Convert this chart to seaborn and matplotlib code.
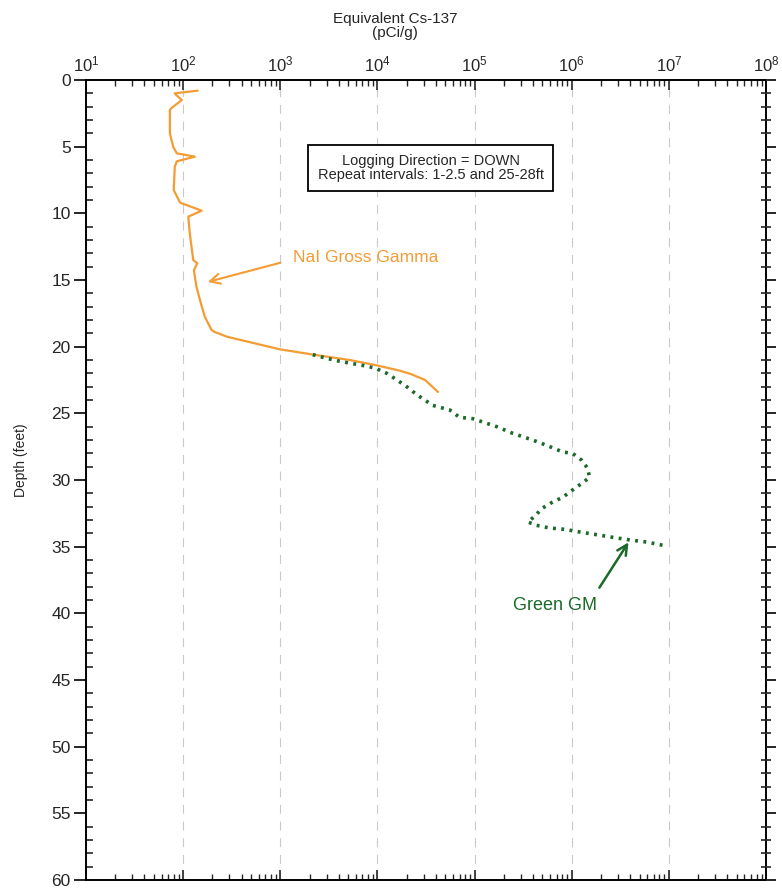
import numpy as np
import matplotlib
matplotlib.use("Agg")
import matplotlib.pyplot as plt
from matplotlib.ticker import LogLocator, MultipleLocator, NullFormatter
import seaborn as sns

# NaI gross gamma log (pCi/g vs depth in ft)
nai_depth = [0.8, 1.0, 1.1, 1.5, 2.1, 2.25, 4.0, 5.0, 5.5, 5.75, 6.1, 6.5, 8.25, 9.2,
             9.8, 10.25, 11.5, 13.5, 13.75, 14.25, 15.5, 16.5, 17.75, 18.75, 18.9,
             19.25, 19.6, 20.2, 20.6, 21.0, 21.4, 21.8, 22.05, 22.5, 23.4]
nai_value = [141, 82, 84, 97, 76, 73, 73, 79, 86, 132, 86, 82, 80, 93,
             155, 113, 117, 127, 140, 129, 137, 149, 167, 196, 212,
             281, 447, 990, 2200, 5200, 9800, 17000, 22000, 31000, 42000]

# Green GM log
gm_depth = [20.6, 20.85, 21.1, 21.4, 21.6, 22.0, 22.5, 23.0, 23.6, 24.4, 24.75, 25.3,
            25.4, 26.0, 26.5, 27.0, 27.4, 27.9, 28.0, 28.5, 29.1, 29.8, 30.2, 30.75,
            31.3, 31.65, 32.1, 32.85, 33.15, 33.4, 33.6, 33.7, 33.9, 34.1, 34.3,
            34.5, 34.65, 34.9]
gm_value = [2160, 2900, 4100, 7000, 9400, 12500, 15900, 20000, 25400, 37000, 55600, 70000,
            95800, 169000, 247000, 396000, 552000, 807000, 1.02e6, 1.26e6, 1.45e6, 1.53e6,
            1.3e6, 1.02e6, 807000, 637000, 502000, 396000, 353000, 435000, 591000,
            846000, 1.21e6, 1.8e6, 2.65e6, 4.0e6, 5.9e6, 8.7e6]

x_ticks = [1e1, 1e2, 1e3, 1e4, 1e5, 1e6, 1e7, 1e8]
x_labels = ['$10^{1}$', '$10^{2}$', '$10^{3}$', '$10^{4}$',
            '$10^{5}$', '$10^{6}$', '$10^{7}$', '$10^{8}$']

sns.set_style("ticks")
plt.rcParams['font.family'] = ['Liberation Sans', 'DejaVu Sans']
plt.rcParams['mathtext.default'] = 'regular'

fig = plt.figure(figsize=(7.82, 8.90), dpi=100)
ax = fig.add_axes([86 / 782, 1 - 880 / 890, 680 / 782, 800 / 890])

orange = '#f49c34'
green = '#1b6a2a'

sns.lineplot(x=nai_value, y=nai_depth, sort=False, estimator=None, color=orange,
             lw=1.6, ax=ax)
sns.lineplot(x=gm_value, y=gm_depth, sort=False, estimator=None, color=green,
             lw=2.6, ls=(0, (0.8, 1.5)), ax=ax)

ax.set_xscale('log')
ax.set_xlim(10, 1e8)
ax.set_ylim(60, 0)

# right-hand ticks on a twin axis (different direction from the left)
ax2 = ax.twinx()
ax2.set_ylim(60, 0)
ax2.yaxis.set_major_locator(MultipleLocator(5))
ax2.yaxis.set_minor_locator(MultipleLocator(1))
ax2.tick_params(axis='y', which='major', direction='out', length=7, width=1.4,
                labelright=False)
ax2.tick_params(axis='y', which='minor', direction='inout', length=7, width=1.2)
for s in ax2.spines.values():
    s.set_visible(False)

# axis styling
for s in ax.spines.values():
    s.set_linewidth(1.4)
    s.set_color('black')
ax.set_xticks(x_ticks)
ax.set_xticklabels(x_labels)
ax.xaxis.set_minor_locator(LogLocator(base=10, subs=np.arange(2, 10), numticks=12))
ax.xaxis.set_minor_formatter(NullFormatter())
ax.tick_params(axis='x', which='both', top=True, bottom=True, labeltop=True,
               labelbottom=False, direction='in')
ax.tick_params(axis='x', which='major', length=7, width=1.2, labelsize=12, pad=4)
ax.tick_params(axis='x', which='minor', length=4, width=1.0)
ax.grid(axis='x', which='major', color='#c9c9c9', lw=0.8, ls=(0, (8, 7)))

ax.yaxis.set_major_locator(MultipleLocator(5))
ax.yaxis.set_minor_locator(MultipleLocator(1))
ax.tick_params(axis='y', which='major', left=True, right=False, direction='out',
               length=9, width=1.4, labelsize=12.5, pad=2)
ax.tick_params(axis='y', which='minor', left=True, right=False, direction='in',
               length=5, width=1.2)

ax.set_xlabel('')
ax.set_ylabel('Depth (feet)', fontsize=10)
ax.yaxis.set_label_coords(-0.085, 0.525)
fig.text(395 / 782, 1 - 26 / 890, 'Equivalent Cs-137\n(pCi/g)', ha='center', va='center',
         fontsize=11, linespacing=1.05)

ax.text(3.55e4, 6.6, 'Logging Direction = DOWN\nRepeat intervals: 1-2.5 and 25-28ft',
        ha='center', va='center', fontsize=10.5, linespacing=1.0,
        bbox=dict(boxstyle='square,pad=0.65', fc='white', ec='black', lw=1.3))

ax.annotate('', xy=(168, 15.2), xytext=(1070, 13.65),
            arrowprops=dict(arrowstyle='->', color=orange, lw=1.5,
                            mutation_scale=18))
ax.text(1350, 13.35, 'NaI Gross Gamma', color=orange, fontsize=12.5,
        ha='left', va='center')

ax.annotate('', xy=(3.98e6, 34.5), xytext=(1.86e6, 38.25),
            arrowprops=dict(arrowstyle='->', color=green, lw=1.8,
                            mutation_scale=18))
ax.text(6.69e5, 39.4, 'Green GM', color=green, fontsize=13,
        ha='center', va='center')

fig.savefig('out.png', dpi=100)
